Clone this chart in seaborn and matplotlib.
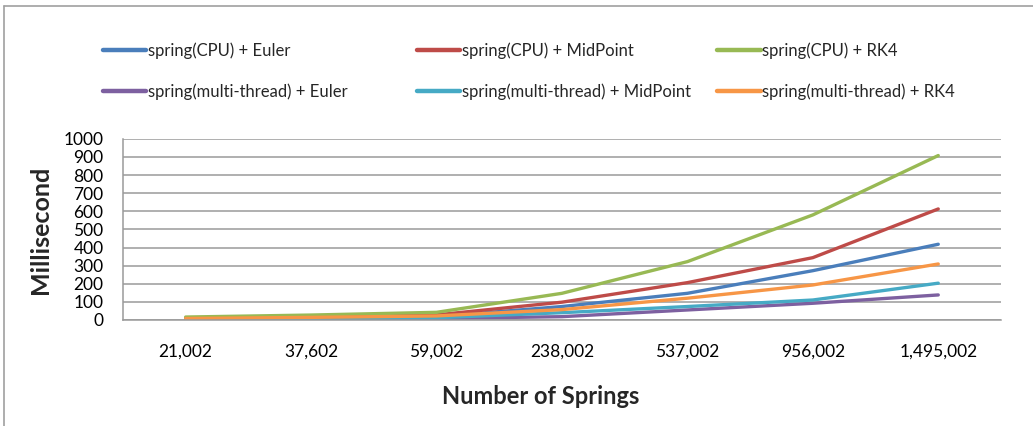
import pandas as pd
import numpy as np
import matplotlib
matplotlib.use("Agg")
import matplotlib.pyplot as plt
from matplotlib.lines import Line2D
import seaborn as sns

sns.set_style("white")
plt.rcParams['font.family'] = ['Lato', 'DejaVu Sans']

# Data (milliseconds)
springs = ["21,002", "37,602", "59,002", "238,002", "537,002", "956,002", "1,495,002"]
cpu_euler = [6, 11, 18, 74, 147, 272, 418]
cpu_midpoint = [10, 17, 28, 98, 206, 344, 613]
cpu_rk4 = [16, 27, 42, 147, 322, 580, 908]
mt_euler = [3, 5, 8, 18, 55, 92, 138]
mt_midpoint = [4, 7, 12, 40, 74, 110, 203]
mt_rk4 = [8, 14, 22, 57, 120, 193, 309]

series = {
    "spring(CPU) + Euler": cpu_euler,
    "spring(CPU) + MidPoint": cpu_midpoint,
    "spring(CPU) + RK4": cpu_rk4,
    "spring(multi-thread) + Euler": mt_euler,
    "spring(multi-thread) + MidPoint": mt_midpoint,
    "spring(multi-thread) + RK4": mt_rk4,
}
colors = ["#4A7EBB", "#BE4B48", "#98B954", "#7D60A0", "#46AAC5", "#F79646"]
palette = dict(zip(series.keys(), colors))

rows = []
for name, vals in series.items():
    for s, v in zip(springs, vals):
        rows.append({"springs": s, "ms": v, "series": name})
df = pd.DataFrame(rows)

fig = plt.figure(figsize=(10.33, 4.26), dpi=100)
ax = fig.add_axes([0.119, 0.249, 0.850, 0.425])

sns.lineplot(data=df, x="springs", y="ms", hue="series", hue_order=list(series.keys()),
             palette=palette, linewidth=2.4, ax=ax, legend=False, sort=False)

ax.set_xlim(-0.5, len(springs) - 0.5)
ax.set_ylim(0, 1000)
ax.set_yticks(np.arange(0, 1001, 100))
ax.yaxis.grid(True, color="#9A9A9A", linewidth=1.1)
ax.set_axisbelow(True)
for sp in ["top", "right"]:
    ax.spines[sp].set_visible(False)
for sp in ["left", "bottom"]:
    ax.spines[sp].set_color("#9A9A9A")
    ax.spines[sp].set_linewidth(1.1)
ax.tick_params(axis="both", length=0, labelsize=12.5, colors="black")
ax.tick_params(axis="x", pad=17)
ax.tick_params(axis="y", pad=14)

ax.set_xlabel("Number of Springs", fontsize=17, fontweight="bold")
ax.set_ylabel("Millisecond", fontsize=18, fontweight="bold")
ax.xaxis.set_label_coords(0.476, -0.36)
ax.yaxis.set_label_coords(-0.081, 0.5)

# legend: three columns placed like the original
names = list(series.keys())
col_x = [0.093, 0.397, 0.688]
for i in range(3):
    pair = [names[i], names[i + 3]]
    handles = [Line2D([], [], color=palette[n], linewidth=3.2) for n in pair]
    fig.legend(handles, pair, loc="upper left", bbox_to_anchor=(col_x[i], 0.916),
               frameon=False, fontsize=12, handlelength=2.6, handletextpad=0.1,
               labelspacing=1.45, borderaxespad=0)

# outer chart border (top and left visible in the crop)
fig.add_artist(Line2D([0.004, 1.0], [0.985, 0.985], transform=fig.transFigure,
                      color="#A0A0A0", linewidth=1.2))
fig.add_artist(Line2D([0.004, 0.004], [0.0, 0.985], transform=fig.transFigure,
                      color="#A0A0A0", linewidth=1.2))

fig.savefig("out.png", dpi=100)
